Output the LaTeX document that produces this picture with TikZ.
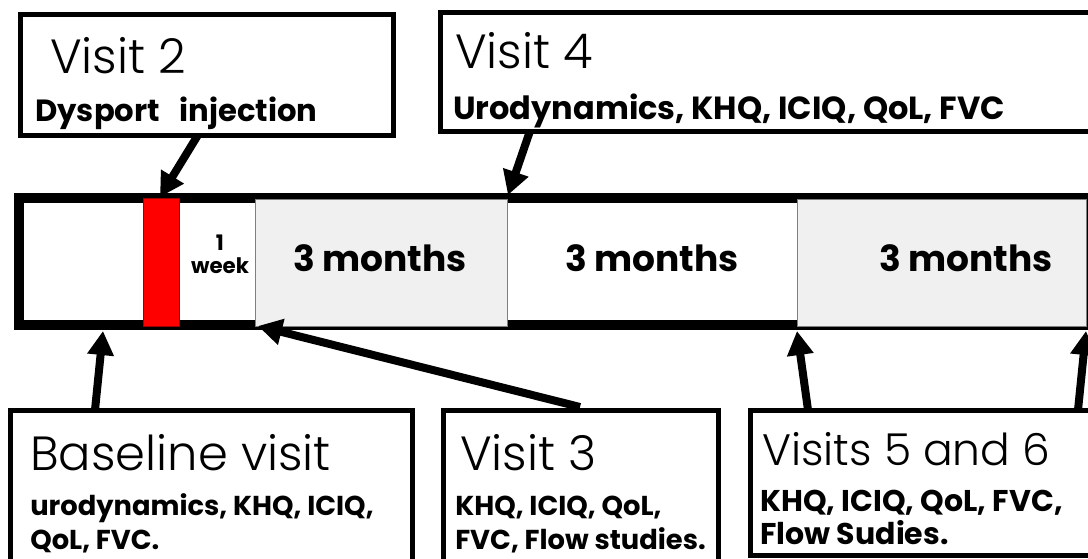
\documentclass[tikz,border=0pt]{standalone}
\usepackage{fontspec}
\setmainfont{Poppins}
\newfontfamily\lightfont{Poppins Light}
\usetikzlibrary{arrows.meta}
\newdimen\px \px=0.75pt
\definecolor{grayfill}{HTML}{F0F0F0}
\definecolor{grayline}{HTML}{7F7F7F}
\definecolor{redfill}{HTML}{FF0000}
\definecolor{redline}{HTML}{A00000}
\begin{document}
\begin{tikzpicture}[x=0.75pt,y=-0.75pt,
  box/.style={draw=black, line width=3.75pt, fill=white, rectangle, inner sep=0pt, outer sep=0pt, anchor=north west},
  seg/.style={rectangle, inner sep=0pt, outer sep=0pt, anchor=north west},
  title/.style={anchor=base west, inner sep=0pt, font=\lightfont\fontsize{#1}{#1}\selectfont},
  title/.default=36pt,
  body/.style={anchor=base west, inner sep=0pt, font=\bfseries\fontsize{#1}{#1}\selectfont},
  months/.style={inner sep=0pt, font=\bfseries\fontsize{27pt}{30pt}\selectfont},
  small/.style={inner sep=0pt, anchor=base, font=\bfseries\fontsize{16pt}{18pt}\selectfont},
  arr/.style={line width=6pt, -{Triangle[length=18pt,width=19pt]}}]
\useasboundingbox (0,0) rectangle (1088,558);
\clip (0,0) rectangle (1088,558);
\fill[white] (0,0) rectangle (1088,558);

% timeline bar
\node[seg, draw=black, line width=7.5pt, fill=white, minimum width=1072*\px, minimum height=127*\px] (bar) at (19,198) {};
\node[seg, draw=redline, line width=0.75pt, fill=redfill, minimum width=36*\px, minimum height=128*\px] (inj) at (143,198) {};
\node[seg, draw=grayline, line width=0.75pt, fill=grayfill, minimum width=252*\px, minimum height=127*\px] (g1) at (255,199) {};
\node[seg, draw=grayline, line width=0.75pt, fill=grayfill, minimum width=289*\px, minimum height=127*\px] (g3) at (797,199) {};
\node[small] (one) at (220,250) {1};
\node[small] (week) at (220,273) {week};
\node[months] (m1) at (380,258) {3 months};
\node[months] (m2) at (652,258) {3 months};
\node[months] (m3) at (966,258) {3 months};

% top boxes
\node[box, minimum width=373*\px, minimum height=121*\px] (v2) at (20,14) {};
\node[title] (v2t) at (50,73) {Visit 2};
\node[body=23pt] (v2b) at (35,121) {Dysport\ \ \ injection};

\node[box, minimum width=700*\px, minimum height=119*\px] (v4) at (440,12) {};
\node[title] (v4t) at (455,68) {Visit 4};
\node[body=24pt] (v4b) at (453,119) {Urodynamics, KHQ, ICIQ, QoL, FVC};

% bottom boxes
\node[box, minimum width=402*\px, minimum height=200*\px] (bl) at (10,410) {};
\node[title] (blt) at (30,470) {Baseline visit};
\node[body=20.5pt] (blb1) at (30,515) {urodynamics, KHQ, ICIQ,};
\node[body=20.5pt] (blb2) at (30,549) {QoL, FVC.};

\node[box, minimum width=275*\px, minimum height=200*\px] (v3) at (443,410) {};
\node[title] (v3t) at (460,470) {Visit 3};
\node[body=20.5pt] (v3b1) at (455,515) {KHQ, ICIQ, QoL,};
\node[body=20.5pt] (v3b2) at (455,549) {FVC, Flow studies.};

\node[box, minimum width=400*\px, minimum height=145*\px] (v56) at (750,410) {};
\node[title=33pt] (v56t) at (762,465) {Visits 5 and 6};
\node[body=22.5pt] (v56b1) at (760,511) {KHQ, ICIQ, QoL, FVC,};
\node[body=22.5pt] (v56b2) at (760,544) {Flow Sudies.};

% arrow ends
\coordinate (a2s) at (198,135);  \coordinate (a2e) at (160,197);
\coordinate (a4s) at (530,131);  \coordinate (a4e) at (508,195);
\coordinate (abs) at (95,410);   \coordinate (abe) at (103,331);
\coordinate (a3s) at (580,407);  \coordinate (a3e) at (258,326);
\coordinate (a5s) at (808,410);  \coordinate (a5e) at (797,331);
\coordinate (a6s) at (1078,410); \coordinate (a6e) at (1086,331);

\draw[arr] (a2s) -- (a2e);
\draw[arr] (a4s) -- (a4e);
\draw[arr] (abs) -- (abe);
\draw[arr] (a3s) -- (a3e);
\draw[arr] (a5s) -- (a5e);
\draw[arr] (a6s) -- (a6e);
\end{tikzpicture}
\end{document}
